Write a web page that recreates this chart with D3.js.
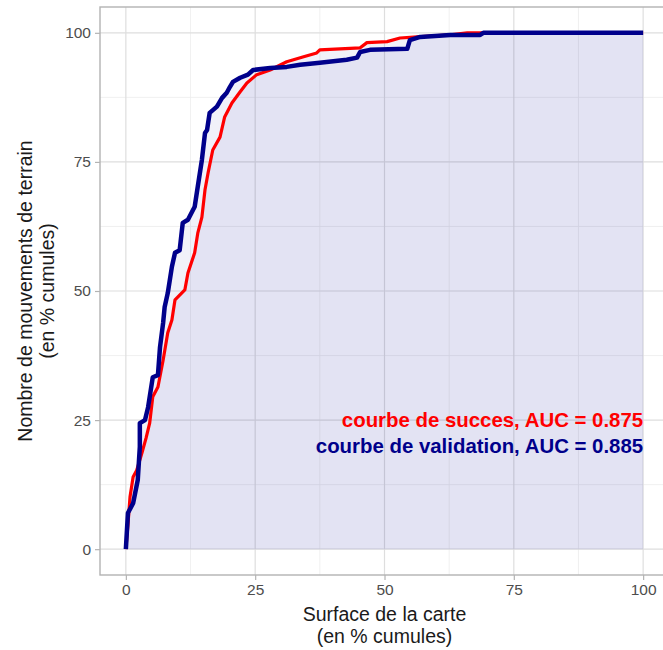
<!DOCTYPE html>
<html>
<head>
<meta charset="utf-8">
<script src="https://cdn.jsdelivr.net/npm/d3@7"></script>
<style>
  body { margin: 0; background: #fff; }
  text { font-family: "Liberation Sans", Arial, sans-serif; }
</style>
</head>
<body>
<div id="chart"></div>
<script>
// cumulative curves (x = % surface, y = % landslides)
var succesX = [0, 0.4, 0.8, 1.4, 2.1, 3.1, 3.9, 4.6, 5.2, 6.2, 7.2, 8.1, 8.9, 9.5, 10.4, 11.4, 12.0, 13.3, 13.9, 14.7, 15.3, 15.9, 16.8, 18.2, 19.1, 20.5, 22.1, 23.4, 25.3, 27.9, 31.1, 34.2, 36.9, 37.5, 45.3, 46.6, 50.5, 53.0, 56.3, 62.7, 66.0, 100];
var succesY = [0, 4.7, 10.1, 14.0, 15.3, 18.6, 21.5, 24.4, 29.5, 31.4, 36.6, 41.9, 44.4, 48.3, 49.2, 50.2, 53.5, 57.4, 61.2, 64.3, 69.6, 72.9, 77.3, 79.8, 83.7, 86.4, 88.6, 90.3, 91.9, 92.8, 94.4, 95.3, 96.1, 96.7, 97.1, 98.1, 98.3, 99.0, 99.2, 99.6, 100, 100];

var validX = [0, 0.4, 1.4, 2.3, 2.7, 2.7, 3.7, 4.3, 5.2, 6.2, 6.6, 7.2, 7.5, 8.1, 8.9, 9.5, 10.4, 11.0, 12.0, 13.3, 13.9, 14.7, 15.3, 15.7, 16.2, 17.6, 18.6, 19.5, 20.1, 20.7, 22.1, 23.6, 24.6, 27.9, 31.1, 33.7, 37.5, 42.7, 44.7, 45.3, 47.2, 54.4, 54.9, 56.9, 62.7, 68.5, 69.1, 100];
var validY = [0, 7.0, 8.9, 13.4, 19.8, 24.4, 25.0, 27.5, 33.3, 33.7, 39.1, 43.8, 46.9, 49.6, 54.7, 57.4, 57.9, 63.2, 63.8, 66.3, 70.2, 75.4, 80.6, 81.2, 84.5, 85.7, 87.4, 88.4, 89.5, 90.5, 91.3, 91.9, 92.8, 93.2, 93.4, 93.8, 94.2, 94.8, 95.2, 96.3, 96.7, 96.9, 98.6, 99.2, 99.6, 99.6, 100, 100];

var majorTicks = [0, 25, 50, 75, 100];
var minorTicks = [12.5, 37.5, 62.5, 87.5];
var labels = ['courbe de succes, AUC = 0.875', 'courbe de validation, AUC = 0.885'];

var width = 663, height = 650;
var panel = {left: 100, right: 669, top: 7, bottom: 575};

var svg = d3.select('#chart').append('svg')
    .attr('width', width)
    .attr('height', height);

var x = d3.scaleLinear().domain([-5, 105]).range([panel.left, panel.right]);
var y = d3.scaleLinear().domain([-5, 105]).range([panel.bottom, panel.top]);

//grid lines
var grid = svg.append('g');
grid.selectAll('.minx').data(minorTicks).enter().append('line')
    .attr('x1', function (d) { return x(d); }).attr('x2', function (d) { return x(d); })
    .attr('y1', panel.top).attr('y2', panel.bottom)
    .attr('stroke', '#ececec').attr('stroke-width', 0.8);
grid.selectAll('.miny').data(minorTicks).enter().append('line')
    .attr('y1', function (d) { return y(d); }).attr('y2', function (d) { return y(d); })
    .attr('x1', panel.left).attr('x2', panel.right)
    .attr('stroke', '#ececec').attr('stroke-width', 0.8);
grid.selectAll('.majx').data(majorTicks).enter().append('line')
    .attr('x1', function (d) { return x(d); }).attr('x2', function (d) { return x(d); })
    .attr('y1', panel.top).attr('y2', panel.bottom)
    .attr('stroke', '#dedede').attr('stroke-width', 1.2);
grid.selectAll('.majy').data(majorTicks).enter().append('line')
    .attr('y1', function (d) { return y(d); }).attr('y2', function (d) { return y(d); })
    .attr('x1', panel.left).attr('x2', panel.right)
    .attr('stroke', '#dedede').attr('stroke-width', 1.2);

var succes = succesX.map(function (d, i) { return [d, succesY[i]]; });
var valid = validX.map(function (d, i) { return [d, validY[i]]; });

var area = d3.area()
    .x(function (d) { return x(d[0]); })
    .y0(y(0))
    .y1(function (d) { return y(d[1]); });
var line = d3.line()
    .x(function (d) { return x(d[0]); })
    .y(function (d) { return y(d[1]); });

//light fills under both curves
[succes, valid].forEach(function (data) {
    svg.append('path').datum(data)
        .attr('d', area)
        .attr('fill', '#00008b')
        .attr('fill-opacity', 0.055);
});

svg.append('path').datum(succes)
    .attr('d', line)
    .attr('fill', 'none')
    .attr('stroke', '#ff0000')
    .attr('stroke-width', 3.2)
    .attr('stroke-linejoin', 'round');

svg.append('path').datum(valid)
    .attr('d', line)
    .attr('fill', 'none')
    .attr('stroke', '#00008b')
    .attr('stroke-width', 4.5)
    .attr('stroke-linejoin', 'round');

//panel border
svg.append('rect')
    .attr('x', panel.left).attr('y', panel.top)
    .attr('width', panel.right - panel.left).attr('height', panel.bottom - panel.top)
    .attr('fill', 'none').attr('stroke', '#b3b3b3').attr('stroke-width', 1.4);

//axes
var xAxis = svg.append('g')
    .attr('transform', 'translate(0,' + panel.bottom + ')')
    .call(d3.axisBottom(x).tickValues(majorTicks).tickSize(5).tickPadding(4));
var yAxis = svg.append('g')
    .attr('transform', 'translate(' + panel.left + ',0)')
    .call(d3.axisLeft(y).tickValues(majorTicks).tickSize(5).tickPadding(4));
[xAxis, yAxis].forEach(function (a) {
    a.select('.domain').remove();
    a.selectAll('line').attr('stroke', '#b3b3b3').attr('stroke-width', 1.2);
    a.selectAll('text').attr('fill', '#4d4d4d').style('font-size', '15.5px')
        .style('font-family', '"Liberation Sans", Arial, sans-serif');
});

//axis titles
var xt = svg.append('text')
    .attr('text-anchor', 'middle')
    .attr('fill', '#1a1a1a')
    .style('font-size', '19.5px');
xt.append('tspan').attr('x', x(50)).attr('y', 621).text('Surface de la carte');
xt.append('tspan').attr('x', x(50)).attr('y', 643).text('(en % cumules)');

var yt = svg.append('text')
    .attr('text-anchor', 'middle')
    .attr('fill', '#1a1a1a')
    .style('font-size', '19.5px')
    .attr('transform', 'rotate(-90)');
yt.append('tspan').attr('x', -y(50)).attr('y', 32).text('Nombre de mouvements de terrain');
yt.append('tspan').attr('x', -y(50)).attr('y', 54).text('(en % cumules)');

//annotations
svg.selectAll('.lab').data(labels).enter().append('text')
    .attr('x', x(100))
    .attr('y', function (d, i) { return i === 0 ? 427 : 453; })
    .attr('text-anchor', 'end')
    .attr('fill', function (d, i) { return i === 0 ? '#ff0000' : '#00008b'; })
    .style('font-size', '20.4px')
    .style('font-weight', 'bold')
    .text(function (d) { return d; });
</script>
</body>
</html>
